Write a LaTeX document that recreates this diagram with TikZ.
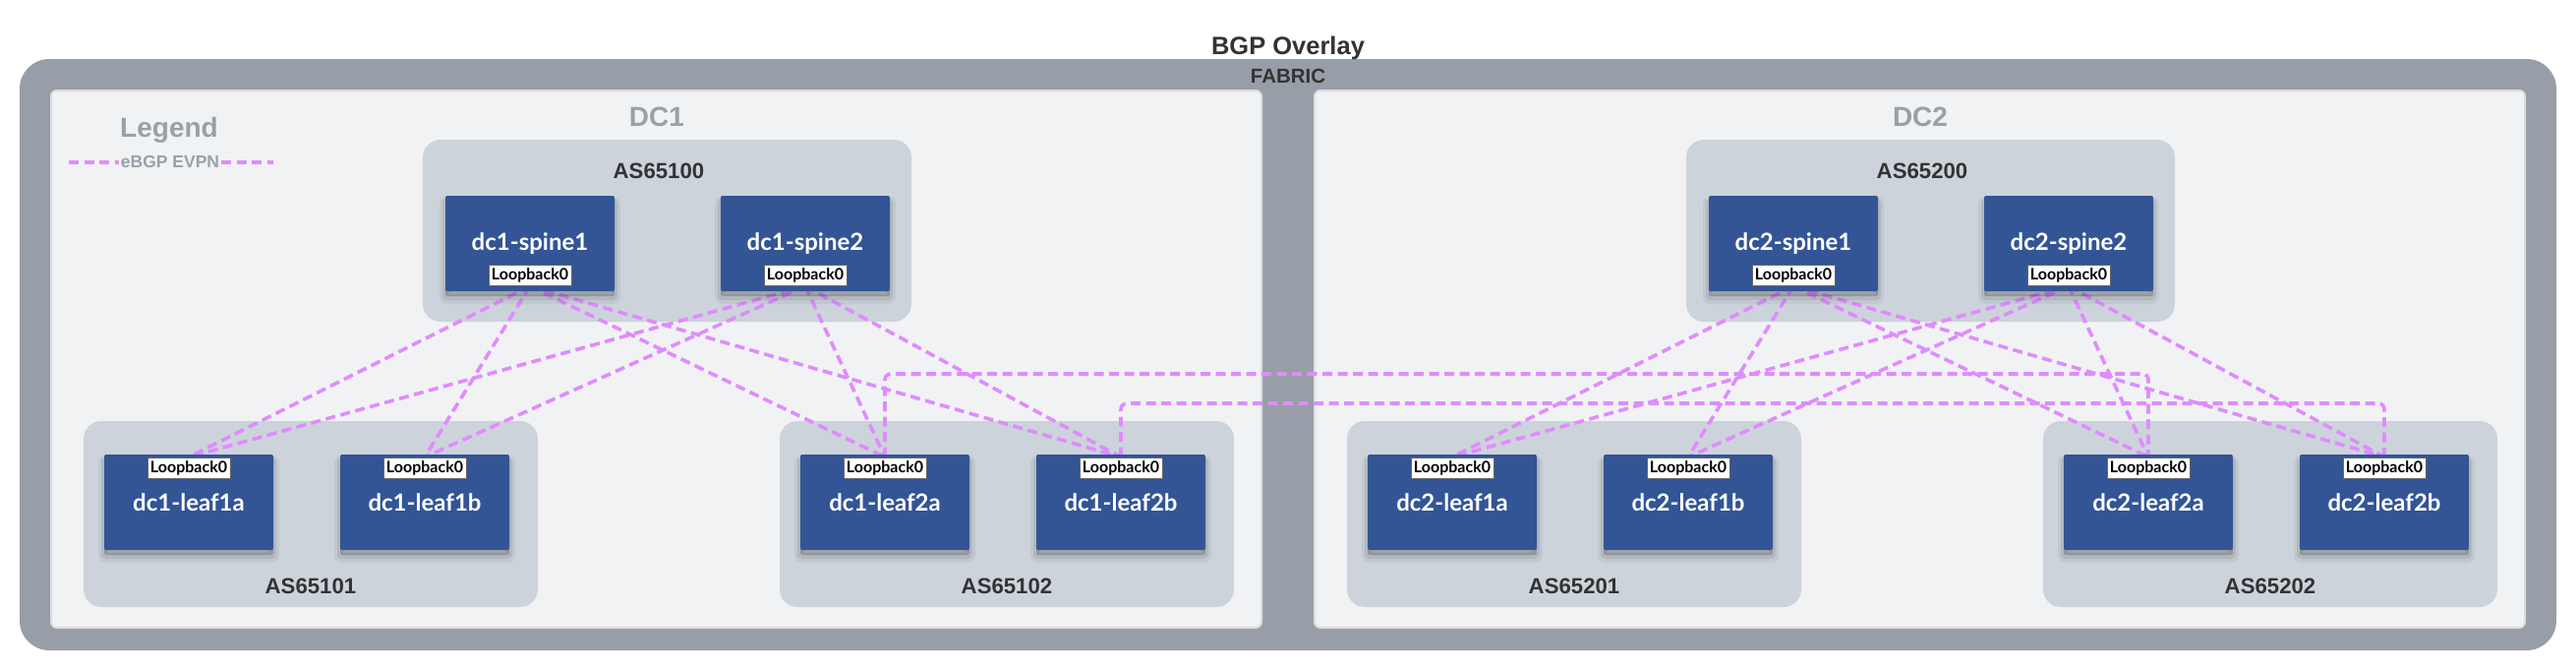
\documentclass[tikz,border=0pt]{standalone}
\usepackage{fontspec}
\setmainfont{Liberation Sans}
\newfontfamily\latofont{Lato}
\definecolor{outerc}{HTML}{989EA8}
\definecolor{panelc}{HTML}{F1F2F4}
\definecolor{paneledge}{HTML}{DCDEE2}
\definecolor{groupc}{HTML}{CDD3DB}
\definecolor{devc}{HTML}{335595}
\definecolor{evpnc}{HTML}{DF8CFF}
\definecolor{darkt}{HTML}{333333}
\definecolor{grayt}{HTML}{9AA0A9}
\pgfdeclarelayer{bg}
\pgfdeclarelayer{lines}
\pgfsetlayers{bg,lines,main}
\begin{document}
\begin{tikzpicture}[x=0.5pt,y=-0.5pt,
  devbox/.style={fill=devc, rounded corners=1pt, minimum width=86pt, minimum height=48.5pt, inner sep=0pt, text=white,
    font=\latofont\bfseries\fontsize{12}{14}\selectfont,
    preaction={draw=black, draw opacity=0.05, line width=6pt, transform canvas={yshift=-3.5pt}},
    preaction={draw=black, draw opacity=0.08, line width=3pt, transform canvas={yshift=-3pt}},
    preaction={fill=black, fill opacity=0.18, transform canvas={yshift=-2.5pt}}},
  lobox/.style={fill=white, draw=black!60, line width=0.4pt, inner xsep=1.5pt, inner ysep=0pt, minimum height=10.5pt,
    font=\latofont\bfseries\fontsize{8}{9}\selectfont, text=black},
  asgroup/.style={fill=groupc, rounded corners=9pt, inner sep=0pt},
  aslabel/.style={font=\bfseries\fontsize{11.1}{13}\selectfont, text=darkt, anchor=base, inner sep=0pt},
  dclabel/.style={font=\bfseries\fontsize{14}{16}\selectfont, text=grayt, anchor=base, inner sep=0pt},
  evpn/.style={draw=evpnc, line width=1.8pt, dash pattern=on 5pt off 2.75pt},
  panelbox/.style={fill=panelc, draw=paneledge, line width=1pt, rounded corners=3pt, inner sep=0pt},
]
\useasboundingbox (0,0) rectangle (2620,680);

\begin{pgfonlayer}{bg}
  \fill[white] (0,0) rectangle (2620,680);
  \node[fill=outerc, rounded corners=15pt, inner sep=0pt, minimum width=1290pt, minimum height=300.5pt] (fabric) at (1310,360.5) {};
  \node[panelbox, minimum width=615.5pt, minimum height=273pt] (dc1panel) at (667.5,365) {};
  \node[panelbox, minimum width=615.5pt, minimum height=273pt] (dc2panel) at (1952.5,365) {};
\end{pgfonlayer}

\node[font=\bfseries\fontsize{12.75}{15}\selectfont, text=darkt, anchor=base, inner sep=0pt] (title) at (1310,55) {BGP Overlay};
\node[font=\bfseries\fontsize{10.25}{12}\selectfont, text=darkt, anchor=base, inner sep=0pt] (fabriclbl) at (1310,84) {FABRIC};

% legend
\node[dclabel] (legend) at (172,139) {Legend};
\coordinate (lgA) at (70,165);
\coordinate (lgB) at (278,165);
\draw[evpn] (lgA) -- (lgB);
\node[fill=panelc, inner xsep=1pt, inner ysep=1pt, font=\bfseries\fontsize{8.75}{10}\selectfont, text=grayt] (lgtext) at (173,164) {eBGP EVPN};

\coordinate (dciA) at (0,380);
\coordinate (dciB) at (0,410);

\foreach \d/\sh in {1/0, 2/1285} {
  \node[dclabel] (d\d lbl) at ({668+\sh},128) {DC\d};
  \begin{pgfonlayer}{bg}
    \node[asgroup, minimum width=248.5pt, minimum height=92.5pt] (d\d gA) at ({678.5+\sh},234.5) {};
    \node[asgroup, minimum width=231pt, minimum height=94.5pt] (d\d gB) at ({316+\sh},522.5) {};
    \node[asgroup, minimum width=231pt, minimum height=94.5pt] (d\d gC) at ({1024+\sh},522.5) {};
  \end{pgfonlayer}
  \node[aslabel] (d\d asA) at ({670+\sh},181) {AS65\d00};
  \node[aslabel] (d\d asB) at ({316+\sh},603) {AS65\d01};
  \node[aslabel] (d\d asC) at ({1024+\sh},603) {AS65\d02};
  % spines
  \node[devbox] (d\d s1) at ({539+\sh},247.5) {dc\d-spine1};
  \node[devbox] (d\d s2) at ({819+\sh},247.5) {dc\d-spine2};
  \node[lobox] (d\d s1lo) at ({539+\sh},280) {Loopback0};
  \node[lobox] (d\d s2lo) at ({819+\sh},280) {Loopback0};
  % leaves
  \node[devbox] (d\d l1a) at ({192+\sh},510.5) {dc\d-leaf1a};
  \node[devbox] (d\d l1b) at ({432+\sh},510.5) {dc\d-leaf1b};
  \node[devbox] (d\d l2a) at ({900+\sh},510.5) {dc\d-leaf2a};
  \node[devbox] (d\d l2b) at ({1140+\sh},510.5) {dc\d-leaf2b};
  \node[lobox] (d\d l1alo) at ({192+\sh},475.5) {Loopback0};
  \node[lobox] (d\d l1blo) at ({432+\sh},475.5) {Loopback0};
  \node[lobox] (d\d l2alo) at ({900+\sh},475.5) {Loopback0};
  \node[lobox] (d\d l2blo) at ({1140+\sh},475.5) {Loopback0};
  \begin{pgfonlayer}{lines}
    \foreach \s in {1,2} {
      \foreach \l in {l1a,l1b,l2a,l2b} {
        \draw[evpn] (d\d s\s lo.south) -- (d\d \l lo.north);
      }
    }
  \end{pgfonlayer}
}

\begin{pgfonlayer}{lines}
  \draw[evpn, rounded corners=3pt] (d1l2alo.north) -- (d1l2alo.north |- dciA) -- (d2l2alo.north |- dciA) -- (d2l2alo.north);
  \draw[evpn, rounded corners=3pt] (d1l2blo.north) -- (d1l2blo.north |- dciB) -- (d2l2blo.north |- dciB) -- (d2l2blo.north);
\end{pgfonlayer}
\end{tikzpicture}
\end{document}
